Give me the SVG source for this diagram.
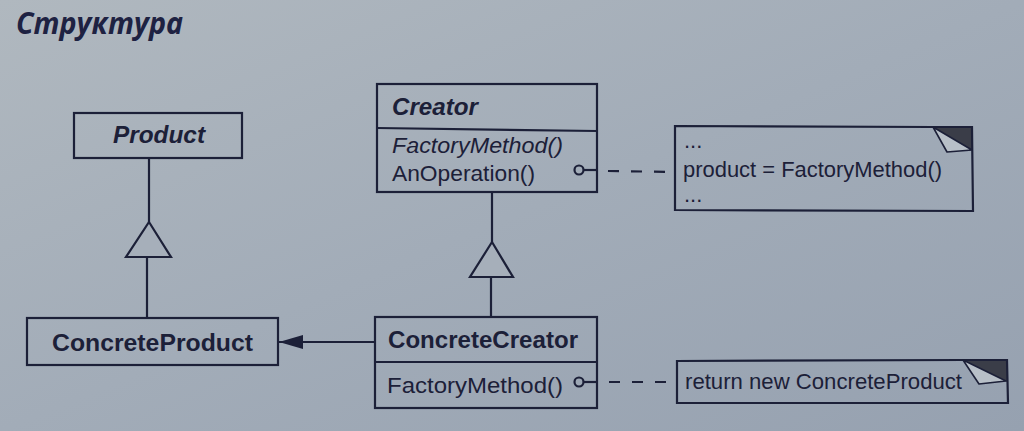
<svg xmlns="http://www.w3.org/2000/svg" width="1024" height="431" viewBox="0 0 1024 431">
<defs>
<linearGradient id="bg" x1="0" y1="0" x2="1" y2="1">
<stop offset="0" stop-color="#b0b8bf"/>
<stop offset="0.5" stop-color="#a2acb8"/>
<stop offset="1" stop-color="#96a1b0"/>
</linearGradient>
<marker id="filled" viewBox="0 0 24 14" refX="24" refY="7" markerWidth="24" markerHeight="14" markerUnits="userSpaceOnUse" orient="auto">
<path d="M24,7 L0,0 L0,14 Z" fill="#1c2038"/>
</marker>
<style>
.box{fill:none;stroke:#1c2038;stroke-width:2.2}
.ln{fill:none;stroke:#1c2038;stroke-width:2.2}
.dash{fill:none;stroke:#1c2038;stroke-width:2.2;stroke-dasharray:11 12}
.tri{fill:#a6afba;stroke:#1c2038;stroke-width:2.2;stroke-linejoin:miter}
.t{font-family:"Liberation Sans",Arial,sans-serif;fill:#1c2038;font-size:22px}
.cls{font-weight:bold;font-size:24px}
.it{font-style:italic}
.title{font-family:"Open Sans","Liberation Sans",sans-serif;font-weight:bold;font-style:italic;font-size:30px;fill:#1e2242}
.dog{fill:#3a3d48}
.flap{fill:#b8c0c8;stroke:#1c2038;stroke-width:1.6;stroke-linejoin:round}
</style>
</defs>
<rect x="0" y="0" width="1024" height="431" fill="url(#bg)"/>
<text class="title" x="16" y="34" textLength="167" lengthAdjust="spacingAndGlyphs">Структура</text>

<g id="connectors">
<line class="ln" x1="149" y1="158" x2="149" y2="222"/>
<line class="ln" x1="147" y1="257" x2="147" y2="318"/>
<polygon class="tri" points="149,222 171,257 126,257"/>
<line class="ln" x1="492" y1="192" x2="492" y2="242"/>
<line class="ln" x1="491" y1="277" x2="491" y2="317"/>
<polygon class="tri" points="492,242 513,277 470,277"/>
<line class="ln" x1="374" y1="342" x2="279" y2="342" marker-end="url(#filled)"/>
<circle cx="579" cy="170" r="4.5" fill="none" stroke="#1c2038" stroke-width="2.2"/>
<line class="ln" x1="583.5" y1="170" x2="597" y2="170"/>
<line class="dash" x1="608" y1="171" x2="675" y2="172"/>
<circle cx="579" cy="382" r="4.5" fill="none" stroke="#1c2038" stroke-width="2.2"/>
<line class="ln" x1="583.5" y1="382" x2="597" y2="382"/>
<line class="dash" x1="609" y1="382" x2="677" y2="382"/>
</g>

<g id="Product">
<rect class="box" x="74" y="113" width="168" height="45"/>
<text class="t cls it" x="159" y="143" text-anchor="middle" textLength="92" lengthAdjust="spacingAndGlyphs">Product</text>
</g>

<g id="ConcreteProduct">
<rect class="box" x="27" y="318" width="251" height="47"/>
<text class="t cls" x="52" y="351" textLength="201" lengthAdjust="spacingAndGlyphs">ConcreteProduct</text>
</g>

<g id="Creator">
<rect class="box" x="377" y="84" width="220" height="108"/>
<line class="ln" x1="377" y1="128" x2="597" y2="131"/>
<text class="t cls it" x="392" y="115" textLength="86" lengthAdjust="spacingAndGlyphs">Creator</text>
<text class="t it" x="392" y="153" textLength="171" lengthAdjust="spacingAndGlyphs">FactoryMethod()</text>
<text class="t" x="392" y="181" textLength="143" lengthAdjust="spacingAndGlyphs">AnOperation()</text>
</g>

<g id="ConcreteCreator">
<rect class="box" x="375" y="317" width="222" height="91"/>
<line class="ln" x1="375" y1="362" x2="597" y2="362"/>
<text class="t cls" x="388" y="348" textLength="190" lengthAdjust="spacingAndGlyphs">ConcreteCreator</text>
<text class="t" x="387" y="393" textLength="176" lengthAdjust="spacingAndGlyphs">FactoryMethod()</text>
</g>

<g id="note1">
<polygon class="dog" points="933,127 972,127 972,150"/>
<path class="box" d="M933,127 L675,126 L675,210 L973,211 L972,127 L933,127"/>
<polygon class="flap" points="933,127 947,152 972,150"/>
<text class="t" x="684" y="148">...</text>
<text class="t" x="683" y="177" textLength="259" lengthAdjust="spacingAndGlyphs">product = FactoryMethod()</text>
<text class="t" x="684" y="202">...</text>
</g>

<g id="note2">
<polygon class="dog" points="963,360 1007,360 1007,382"/>
<path class="box" d="M963,360 L677,361 L677,403 L1008,403 L1007,360 L963,360"/>
<polygon class="flap" points="963,360 979,384 1006,381"/>
<text class="t" x="685" y="389" textLength="277" lengthAdjust="spacingAndGlyphs">return new ConcreteProduct</text>
</g>
</svg>
